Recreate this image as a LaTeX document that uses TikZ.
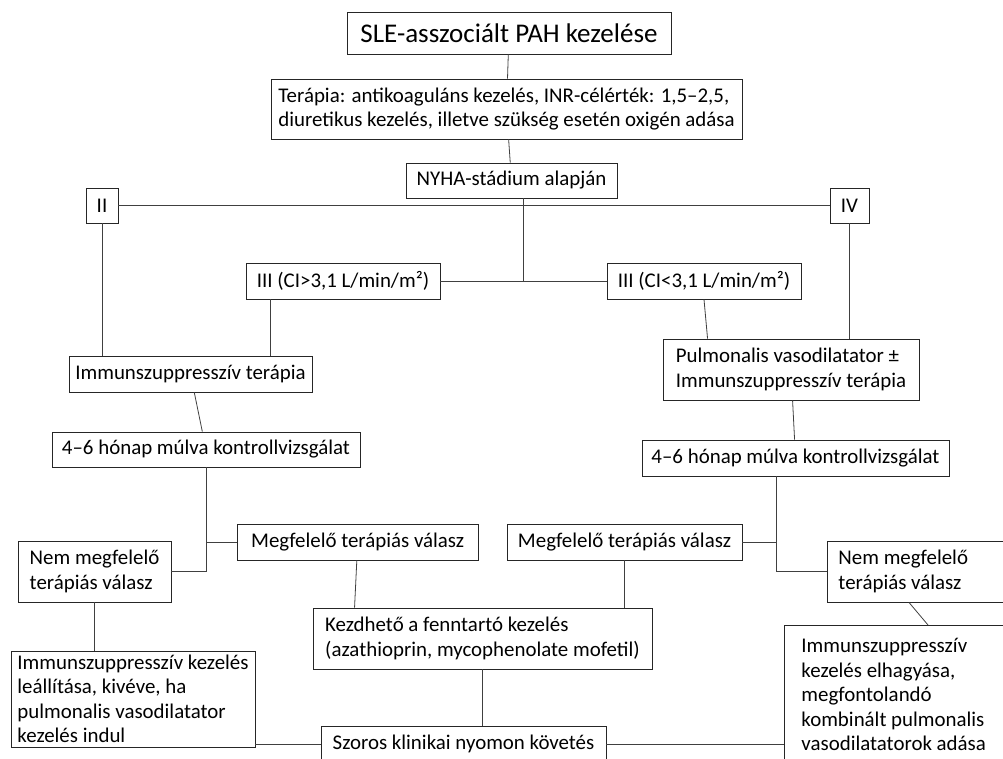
\documentclass[tikz,border=0pt]{standalone}
\usepackage{fontspec}
\setmainfont{Carlito}

\begin{document}
\begin{tikzpicture}[x=1pt,y=-1pt,inner sep=0pt]
\tikzset{box/.style={draw=black!85,line width=0.9pt,minimum height=36pt,align=flush left,font=\fontsize{20.9}{24.5}\selectfont},
  every edge/.style={draw=black!75,line width=0.8pt},
  elbow/.style={to path={|- (\tikztotarget)}}}
\useasboundingbox (0,0) rectangle (1003,758);
\clip (0,0) rectangle (1003,758);
\node[box,minimum width=324pt,minimum height=42pt,font=\fontsize{27}{32}\selectfont] (0) at (509,33) {SLE-asszociált PAH kezelése};
\node[box,minimum width=471pt,minimum height=60pt] (1) at (506.5,109) {Terápia: antikoaguláns kezelés, INR-célérték: 1,5–2,5,\\diuretikus kezelés, illetve szükség esetén oxigén adása};
\node[box,minimum width=211pt,minimum height=35pt] (2) at (511.5,180.5) {NYHA-stádium alapján};
\node[box,minimum width=32pt,minimum height=35pt] (3) at (102,205.5) {II};
\node[box,minimum width=39pt,minimum height=35pt] (4) at (849.5,205.5) {IV};
\node[box,minimum width=194pt] (5) at (343,281) {III (CI>3,1 L/min/m²)};
\node[box,minimum width=194pt] (6) at (704,281) {III (CI<3,1 L/min/m²)};
\node[box,minimum width=243pt] (7) at (190.5,374) {Immunszuppresszív terápia};
\node[box,minimum width=256pt,minimum height=61pt] (8) at (791,369.5) {Pulmonalis vasodilatator ±\\Immunszuppresszív terápia};
\node[box,minimum width=308pt,minimum height=35pt] (9) at (206,449.5) {4–6 hónap múlva kontrollvizsgálat};
\node[box,minimum width=307pt] (10) at (795.5,458) {4–6 hónap múlva kontrollvizsgálat};
\node[box,minimum width=241pt] (11) at (357.7,542) {Megfelelő terápiás válasz};
\node[box,minimum width=235pt] (12) at (624.5,542) {Megfelelő terápiás válasz};
\node[box,minimum width=153pt,minimum height=61pt] (13) at (94.5,571.5) {Nem megfelelő\\terápiás válasz};
\node[box,text width=170pt,inner xsep=11pt,minimum height=61pt,anchor=west] (14) at (827,571.5) {Nem megfelelő\\terápiás válasz};
\node[box,minimum width=339pt,minimum height=61pt] (15) at (482.5,638.5) {Kezdhető a fenntartó kezelés\\(azathioprin, mycophenolate mofetil)};
\node[box,minimum width=244pt,minimum height=96pt] (16) at (133,699) {Immunszuppresszív kezelés\\leállítása, kivéve, ha\\pulmonalis vasodilatator\\kezelés indul};
\node[box,minimum width=285pt] (17) at (463.5,744) {Szoros klinikai nyomon követés};
\node[box,text width=220pt,inner xsep=17pt,minimum height=138pt,anchor=north west] (18) at (784,625) {Immunszuppresszív\\kezelés elhagyása,\\megfontolandó\\kombinált pulmonalis\\vasodilatatorok adása};
\path (0) edge (1);
\path (1) edge (2);
\path (3) edge (4);
\path ([xshift=11.5pt]2.south) edge ([xshift=11.5pt]2.south |- 5.east);
\path (5) edge (6);
\path (3) edge (3 |- 7.north);
\path ([xshift=25pt]5.south west) edge ([xshift=25pt]5.south west |- 7.north);
\path (6.south) edge ([xshift=45pt]8.north west);
\path (4) edge (4 |- 8.north);
\path (7) edge (9);
\path (8) edge (10);
\path (9) edge[elbow] (13);
\path (11) edge (11 -| 9.south);
\path ([xshift=-19.5pt]10.south) edge[elbow] (14);
\path (12) edge ([xshift=-19.5pt]10.south |- 12);
\path (13) edge (13 |- 16.north);
\path (11) edge ([xshift=42pt]15.north west);
\path (12) edge (12 |- 15.north);
\path (15) edge (15 |- 17.north);
\path ([xshift=82pt]14.south west) edge ([xshift=144pt]18.north west);
\path (17) edge (17 -| 16.east);
\path (17) edge (17 -| 18.west);
\end{tikzpicture}
\end{document}
